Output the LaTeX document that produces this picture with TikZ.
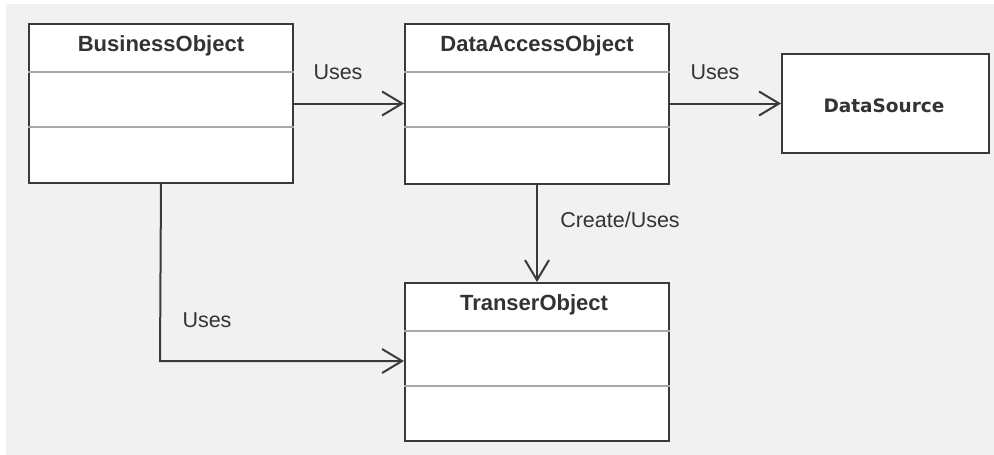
\documentclass[tikz,border=0pt]{standalone}
\usepackage{fontspec}
\setmainfont{Liberation Sans}
\newfontfamily\dsfont{DejaVu Sans}
\usetikzlibrary{arrows.meta}
\definecolor{bgcol}{HTML}{F1F1F1}
\definecolor{edgecol}{HTML}{3A3A3A}
\definecolor{sepcol}{HTML}{A8A8A8}
\definecolor{txtcol}{HTML}{333333}
\tikzset{
  classbox/.style={draw=edgecol, fill=white, line width=2pt, rectangle, inner sep=0pt,
    anchor=north west, minimum width=264pt},
  title/.style={text=txtcol, font=\fontsize{22}{24}\selectfont\bfseries},
  lbl/.style={text=txtcol, font=\fontsize{21.5}{24}\selectfont},
  sep/.style={draw=sepcol, line width=1.6pt},
  uses/.style={draw=edgecol, line width=2pt,
    -{Straight Barb[length=20pt, width=24pt, line width=2pt]}}
}
\begin{document}
\begin{tikzpicture}[x=1pt, y=-1pt]
  \useasboundingbox (0,0) rectangle (994,455);
  \fill[white] (0,0) rectangle (994,455);
  \fill[bgcol] (6,4) rectangle (994,455);

  % class boxes
  \node[classbox, minimum height=159pt] (bo) at (28,23) {};
  \node[classbox, minimum height=160pt] (dao) at (404,23) {};
  \node[classbox, minimum height=158pt] (to) at (404,282) {};
  \node[classbox, minimum width=207pt, minimum height=99pt] (ds) at (781,53) {};

  % compartment separators
  \foreach \b in {bo,dao,to}{
    \draw[sep] ([yshift=-49pt]\b.north west) -- ([yshift=-49pt]\b.north east);
    \draw[sep] ([yshift=-104pt]\b.north west) -- ([yshift=-104pt]\b.north east);
  }

  % class names
  \node[title] (bot) at (161,46) {BusinessObject};
  \node[title] (daot) at (537,46) {DataAccessObject};
  \node[title] (tot) at (534,305) {TranserObject};
  \node[text=txtcol, font=\fontsize{18.5}{20}\selectfont\dsfont\bfseries] (dst) at (884,106) {DataSource};

  % associations
  \draw[uses] (bo.east) -- (bo.east -| dao.west);
  \draw[uses] (dao.east |- bo.east) -- (dao.east |- bo.east -| ds.west);
  \draw[uses] (dao.south) -- (to.north);
  \coordinate (bend) at (160,361);
  \draw[uses] (bo.south) -- (bend) -- (bend -| to.west);

  % labels
  \node[lbl] (l1) at (338,72) {Uses};
  \node[lbl] (l2) at (715,72) {Uses};
  \node[lbl] (l3) at (620,220) {Create/Uses};
  \node[lbl] (l4) at (207,320) {Uses};
\end{tikzpicture}
\end{document}
